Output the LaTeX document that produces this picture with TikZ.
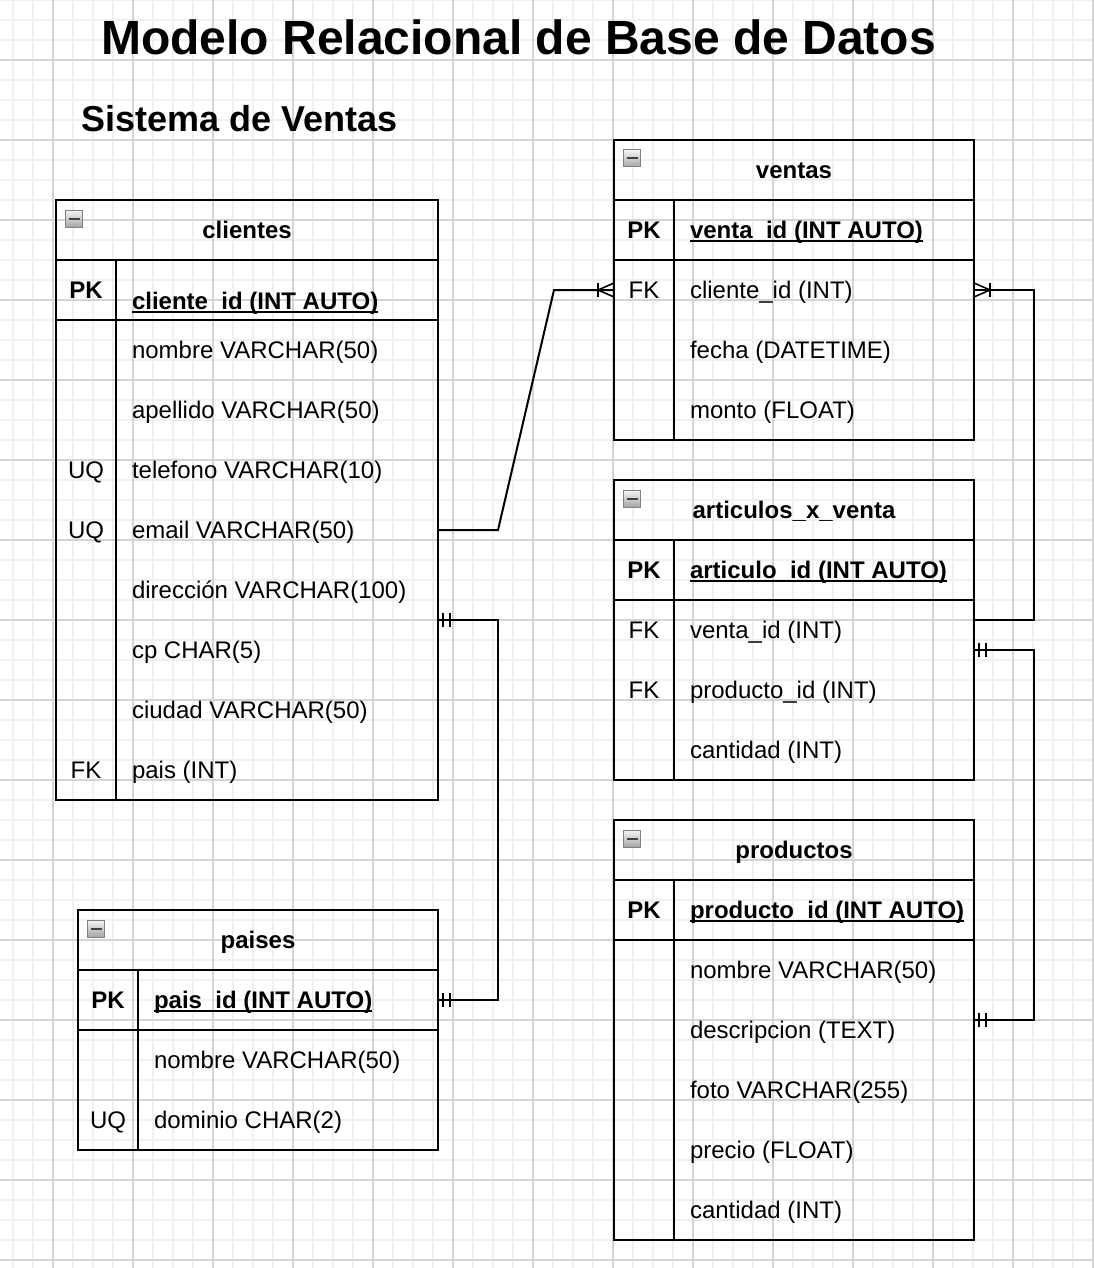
\documentclass[tikz,border=0pt]{standalone}
\usepackage{fontspec}
\setmainfont{Liberation Sans}

\newcommand\subrayado[1]{\setbox0\hbox{#1}\rlap{\rule[-3.6pt]{\wd0}{1.8pt}}\box0}

\begin{document}
\begin{tikzpicture}[x=1pt, y=-1pt, line width=2pt,
  menor/.style={line width=1.5pt, black!6},
  mayor/.style={line width=1.2pt, black!17},
  tabla/.style={draw, anchor=north west, inner sep=0pt, outer sep=0pt},
  texto/.style={inner sep=0pt, text height=17pt, text depth=0pt, font=\fontsize{24}{29}\selectfont},
  negrita/.style={font=\fontsize{24}{29}\selectfont\bfseries},
  titulo/.style={texto, negrita},
  clave/.style={texto},
  campo/.style={texto, anchor=west},
  icono/.style={draw=black!50, line width=1pt, top color=black!4, bottom color=black!35,
    minimum size=17pt, inner sep=0pt,
    path picture={\draw[line width=2pt, black!75] ([xshift=-5.5pt]path picture bounding box.center) -- ([xshift=5.5pt]path picture bounding box.center);}},
  muchos/.pic={\draw[line width=1.6pt] (0,-7) -- (16,0) -- (0,7); \draw (16,-7) -- (16,7);},
  uno/.pic={\draw (5,-7) -- (5,7) (12,-7) -- (12,7);}]

\path[use as bounding box, fill=white] (0,0) rectangle (1093,1268);

%fondo cuadriculado
\foreach \x in {13,33,...,1093} \draw[menor] (\x,0) -- (\x,1268);
\foreach \y in {0,20,...,1260} \draw[menor] (0,\y) -- (1093,\y);
\foreach \x in {53,133,...,1093} \draw[mayor] (\x,0) -- (\x,1268);
\foreach \y in {60,140,...,1260} \draw[mayor] (0,\y) -- (1093,\y);

\node[font=\fontsize{48}{58}\selectfont\bfseries, anchor=base] (titulo) at (518.5,55) {Modelo Relacional de Base de Datos};
\node[font=\fontsize{36}{43}\selectfont\bfseries, anchor=base west] (subtitulo) at (77,132) {Sistema de Ventas};

% clientes
\begin{scope}[shift={(56,200)}]
\node[tabla, minimum width=382pt, minimum height=600pt] (cli) at (0,0) {};
\node[titulo] (cli-t) at (191,30) {clientes};
\node[icono] (cli-i) at (18,18.5) {};
\draw (0,60) -- (382,60) (0,120) -- (382,120) (60,60) -- (60,600);
\node[clave, negrita] (cli-k0) at (30,90) {PK};
\node[campo, negrita] (cli-f0) at (75,100.5) {\subrayado{cliente\_id (INT AUTO)}};
\foreach \k/\f [count=\i] in {{}/{nombre VARCHAR(50)}, {}/{apellido VARCHAR(50)}, UQ/{telefono VARCHAR(10)}, UQ/{email VARCHAR(50)}, {}/{dirección VARCHAR(100)}, {}/{cp CHAR(5)}, {}/{ciudad VARCHAR(50)}, FK/{pais (INT)}}
  {
  \node[clave] (cli-k\i) at (30,90+60*\i) {\k};
  \node[campo] (cli-f\i) at (75,90+60*\i) {\f};
  }
\end{scope}

% ventas
\begin{scope}[shift={(614,140)}]
\node[tabla, minimum width=360pt, minimum height=300pt] (ven) at (0,0) {};
\node[titulo] (ven-t) at (180,30) {ventas};
\node[icono] (ven-i) at (18,18.5) {};
\draw (0,60) -- (360,60) (0,120) -- (360,120) (60,60) -- (60,300);
\node[clave, negrita] (ven-k0) at (30,90) {PK};
\node[campo, negrita] (ven-f0) at (75,90) {\subrayado{venta\_id (INT AUTO)}};
\foreach \k/\f [count=\i] in {FK/{cliente\_id (INT)}, {}/{fecha (DATETIME)}, {}/{monto (FLOAT)}}
  {
  \node[clave] (ven-k\i) at (30,90+60*\i) {\k};
  \node[campo] (ven-f\i) at (75,90+60*\i) {\f};
  }
\end{scope}

% articulos_x_venta
\begin{scope}[shift={(614,480)}]
\node[tabla, minimum width=360pt, minimum height=300pt] (art) at (0,0) {};
\node[titulo] (art-t) at (180,30) {articulos\_x\_venta};
\node[icono] (art-i) at (18,18.5) {};
\draw (0,60) -- (360,60) (0,120) -- (360,120) (60,60) -- (60,300);
\node[clave, negrita] (art-k0) at (30,90) {PK};
\node[campo, negrita] (art-f0) at (75,90) {\subrayado{articulo\_id (INT AUTO)}};
\foreach \k/\f [count=\i] in {FK/{venta\_id (INT)}, FK/{producto\_id (INT)}, {}/{cantidad (INT)}}
  {
  \node[clave] (art-k\i) at (30,90+60*\i) {\k};
  \node[campo] (art-f\i) at (75,90+60*\i) {\f};
  }
\end{scope}

% productos
\begin{scope}[shift={(614,820)}]
\node[tabla, minimum width=360pt, minimum height=420pt] (pro) at (0,0) {};
\node[titulo] (pro-t) at (180,30) {productos};
\node[icono] (pro-i) at (18,18.5) {};
\draw (0,60) -- (360,60) (0,120) -- (360,120) (60,60) -- (60,420);
\node[clave, negrita] (pro-k0) at (30,90) {PK};
\node[campo, negrita] (pro-f0) at (75,90) {\subrayado{producto\_id (INT AUTO)}};
\foreach \k/\f [count=\i] in {{}/{nombre VARCHAR(50)}, {}/{descripcion (TEXT)}, {}/{foto VARCHAR(255)}, {}/{precio (FLOAT)}, {}/{cantidad (INT)}}
  {
  \node[clave] (pro-k\i) at (30,90+60*\i) {\k};
  \node[campo] (pro-f\i) at (75,90+60*\i) {\f};
  }
\end{scope}

% paises
\begin{scope}[shift={(78,910)}]
\node[tabla, minimum width=360pt, minimum height=240pt] (pai) at (0,0) {};
\node[titulo] (pai-t) at (180,30) {paises};
\node[icono] (pai-i) at (18,18.5) {};
\draw (0,60) -- (360,60) (0,120) -- (360,120) (60,60) -- (60,240);
\node[clave, negrita] (pai-k0) at (30,90) {PK};
\node[campo, negrita] (pai-f0) at (75,90) {\subrayado{pais\_id (INT AUTO)}};
\foreach \k/\f [count=\i] in {{}/{nombre VARCHAR(50)}, UQ/{dominio CHAR(2)}}
  {
  \node[clave] (pai-k\i) at (30,90+60*\i) {\k};
  \node[campo] (pai-f\i) at (75,90+60*\i) {\f};
  }
\end{scope}

% relaciones
\draw (cli.east |- cli-f4) -- ++(60,0) -- ([xshift=-60pt]ven.west |- ven-f1) -- (ven.west |- ven-f1);
\draw (ven.east |- ven-f1) -- ++(60,0) |- ([yshift=10pt]art.east |- art-f1);
\draw ([yshift=-20pt]art.east |- art-f1) -- ++(60,0) |- ([yshift=10pt]pro.east |- pro-f2);
\draw ([yshift=-30pt]cli.east |- cli-f5) -- ++(60,0) |- (pai.east |- pai-f0);

\pic[xscale=-1] at (ven.west |- ven-f1) {muchos};
\pic at (ven.east |- ven-f1) {muchos};
\pic at ([yshift=-20pt]art.east |- art-f1) {uno};
\pic at ([yshift=10pt]pro.east |- pro-f2) {uno};
\pic at ([yshift=-30pt]cli.east |- cli-f5) {uno};
\pic at (pai.east |- pai-f0) {uno};

\end{tikzpicture}
\end{document}
